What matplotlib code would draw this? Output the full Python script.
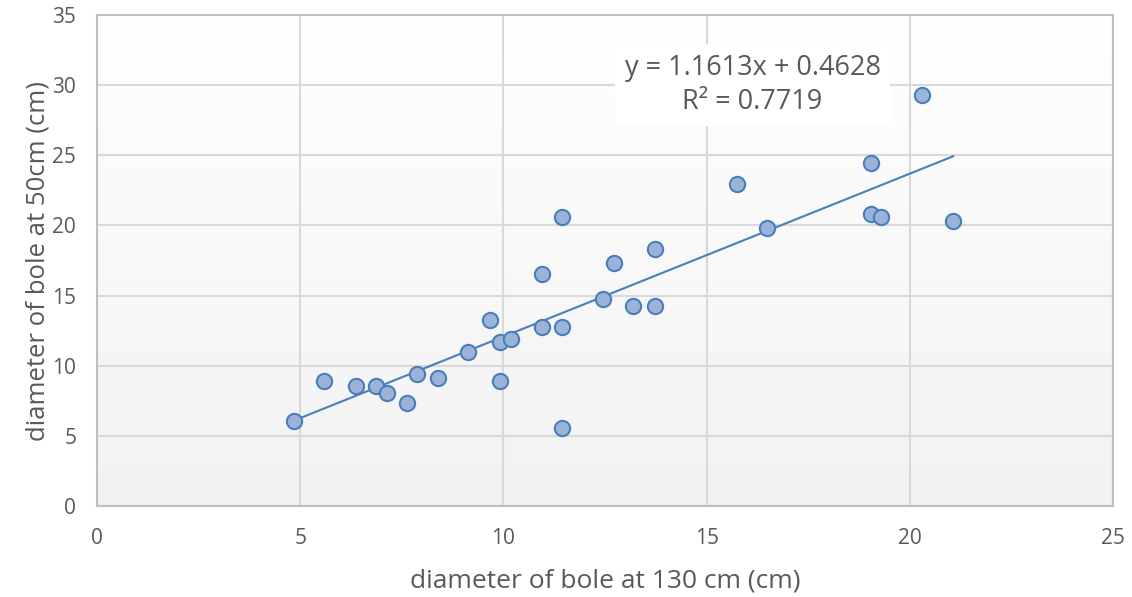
import numpy as np
import matplotlib.pyplot as plt

# bole diameters (cm)
d130 = [4.84, 5.58, 6.37, 6.86, 7.13, 7.62, 7.87, 8.38, 9.14, 9.66,
        9.91, 9.91, 10.18, 10.94, 10.94, 11.43, 11.43, 11.43, 12.44, 12.71,
        13.20, 13.72, 13.72, 15.76, 16.49, 19.05, 19.05, 19.30, 20.30, 21.07]
d50 = [6.08, 8.88, 8.59, 8.59, 8.09, 7.37, 9.38, 9.16, 10.95, 13.24,
       11.67, 8.88, 11.88, 16.54, 12.74, 20.62, 12.74, 5.58, 14.75, 17.32,
       14.25, 18.33, 14.25, 22.98, 19.83, 24.48, 20.83, 20.62, 29.28, 20.33]

slope = 1.1613
intercept = 0.4628
r2 = 0.7719

plt.rcParams['font.family'] = ['Open Sans', 'DejaVu Sans']
txt = '#595959'
grid = '#d9d9d9'

fig = plt.figure(figsize=(11.32, 5.97), dpi=100)
ax = fig.add_axes([0.0857, 0.1524, 0.8975, 0.8225])

# soft vertical gradient behind the plot area
grad = np.linspace(0, 1, 256).reshape(-1, 1)
ax.imshow(grad, extent=[0, 1, 0, 1], transform=ax.transAxes, aspect='auto',
          cmap=plt.matplotlib.colors.LinearSegmentedColormap.from_list(
              'bg', ['#f2f2f2', '#ffffff']),
          origin='lower', zorder=0)

ax.set_xlim(0, 25)
ax.set_ylim(0, 35)
ax.set_xticks(range(0, 26, 5))
ax.set_yticks(range(0, 36, 5))
ax.grid(True, color=grid, linewidth=1.5, zorder=1)
ax.set_axisbelow(True)
for s in ax.spines.values():
    s.set_color('#bfbfbf')
    s.set_linewidth(1.5)
ax.tick_params(length=0, labelsize=15, colors=txt)
ax.tick_params(axis='x', pad=16)
ax.tick_params(axis='y', pad=15)

xs = np.array([min(d130), max(d130)])
ax.plot(xs, slope * xs + intercept, color='#4a7ebb', linewidth=1.5, zorder=3)
ax.plot(d130, d50, 'o', markersize=11, markerfacecolor='#9bb3d9',
        markeredgecolor='#4a7ebb', markeredgewidth=1.5, zorder=4)

ax.text(16.13, 30.0, 'y = %.4fx + %.4f\nR² = %.4f' % (slope, intercept, r2),
        ha='center', va='center', fontsize=19.5, color=txt, linespacing=1.3,
        bbox=dict(facecolor='white', edgecolor='none', pad=7), zorder=5)

ax.set_xlabel('diameter of bole at 130 cm (cm)', fontsize=19, color=txt, labelpad=14)
ax.set_ylabel('diameter of bole at 50cm (cm)', fontsize=18.5, color=txt, labelpad=1)

fig.savefig('out.png', dpi=100)
